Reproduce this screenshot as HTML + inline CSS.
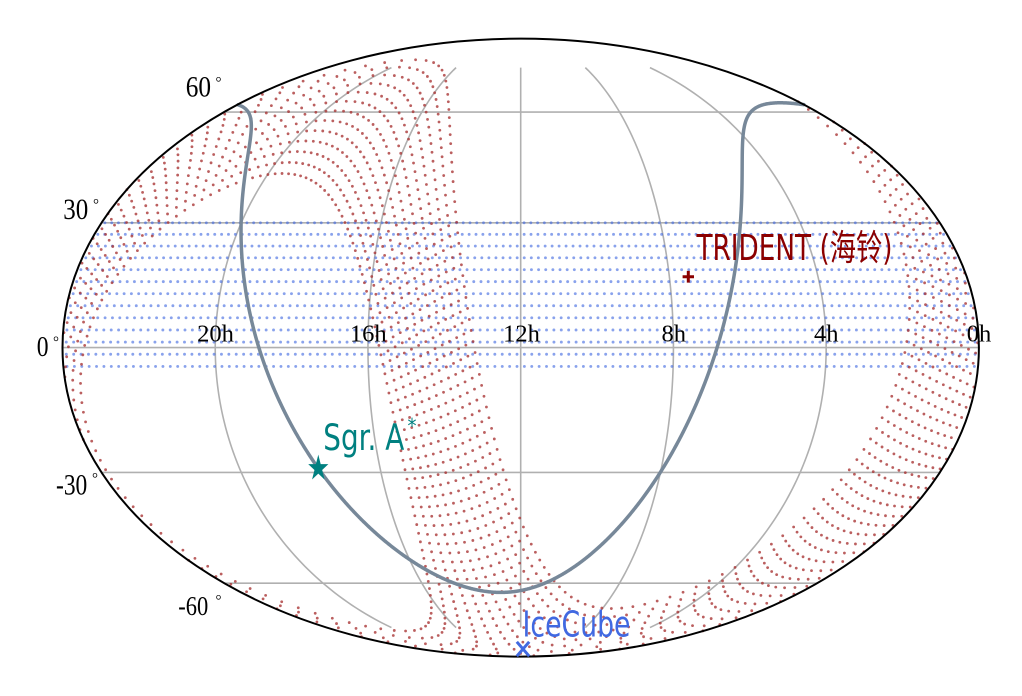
<!DOCTYPE html>
<html><head><meta charset="utf-8">
<style>
html,body{margin:0;padding:0;background:#fff;}
svg{display:block;}
</style></head>
<body>
<svg id="s" width="1022" height="696" viewBox="0 0 1022 696" xmlns="http://www.w3.org/2000/svg">
<rect x="0" y="0" width="1022" height="696" fill="#fff"/>
<g id="grid" fill="none" stroke="#b0b0b0" stroke-width="1.6"></g>
<g id="blue" fill="#4169e1" fill-opacity="0.62"></g>
<g id="red" fill="#a83232" fill-opacity="0.78"></g>
<path id="gal" fill="none" stroke="#778899" stroke-width="3.5" stroke-linejoin="round" stroke-linecap="round"/>
<ellipse cx="520.7" cy="347.6" rx="458.2" ry="309" fill="none" stroke="#000" stroke-width="2"/>

<!-- markers -->
<path d="M682.6 276.7 H694 M688.3 270.9 V282.6" stroke="#8b0000" stroke-width="3" fill="none"/>
<polygon id="star" fill="#008080"/>
<path d="M516.8 641.8 L529.2 656.2 M529.2 641.8 L516.8 656.2" stroke="#4169e1" stroke-width="3" fill="none"/>

<!-- latitude labels -->
<g font-family="'Liberation Serif', serif" fill="#000">
  <text transform="translate(185.7,96.7) scale(1,1.17)" font-size="25.3" textLength="25.3" lengthAdjust="spacingAndGlyphs">60</text>
  <text x="215.5" y="87" font-size="15">°</text>
  <text transform="translate(63.3,219) scale(1,1.17)" font-size="25.3" textLength="25" lengthAdjust="spacingAndGlyphs">30</text>
  <text x="93" y="209" font-size="15">°</text>
  <text transform="translate(36.7,356) scale(1,1.2)" font-size="24" textLength="11.8" lengthAdjust="spacingAndGlyphs">0</text>
  <text x="53" y="346.6" font-size="15">°</text>
  <text transform="translate(56,494.3) scale(1,1.17)" font-size="25.3" textLength="31.3" lengthAdjust="spacingAndGlyphs">-30</text>
  <text x="92" y="483.2" font-size="15">°</text>
  <text transform="translate(178.3,615) scale(1,1.1)" font-size="25.3" textLength="30" lengthAdjust="spacingAndGlyphs">-60</text>
  <text x="215.5" y="605" font-size="15">°</text>
</g>

<!-- RA labels -->
<g font-family="'Liberation Serif', serif" font-size="24.5" fill="#000" text-anchor="middle">
  <text x="215.5" y="341.3">20h</text>
  <text x="368.3" y="341.3">16h</text>
  <text x="521.5" y="341.3">12h</text>
  <text x="673.7" y="341.3">8h</text>
  <text x="826.3" y="341.3">4h</text>
  <text x="979" y="341.3">0h</text>
</g>

<!-- annotations -->
<text transform="translate(696.5,260) scale(1,1.4)" font-family="'DejaVu Sans','Noto Sans CJK SC',sans-serif" font-size="25.5" fill="#8b0000" textLength="196" lengthAdjust="spacingAndGlyphs">TRIDENT (海铃)</text>
<text transform="translate(323.3,450) scale(1,1.42)" font-family="'DejaVu Sans',sans-serif" font-size="26" fill="#008080" textLength="81" lengthAdjust="spacingAndGlyphs">Sgr. A</text>
<text transform="translate(407.5,433) scale(1,1.15)" font-family="'DejaVu Sans',sans-serif" font-size="18" fill="#008080">*</text>
<text transform="translate(522.5,636.7) scale(1,1.38)" font-family="'DejaVu Sans',sans-serif" font-size="26" fill="#4169e1" textLength="108" lengthAdjust="spacingAndGlyphs">IceCube</text>
</svg>
<script>
(function(){
var NS="http://www.w3.org/2000/svg";
var CX=520.7, CY=347.6, A=458.2, B=309, D=Math.PI/180;
function theta(dec){
  var phi=dec*D, k=Math.PI*Math.sin(phi);
  var lo=-Math.PI/2, hi=Math.PI/2;
  for(var i=0;i<60;i++){var m=(lo+hi)/2; if(2*m+Math.sin(2*m)<k) lo=m; else hi=m;}
  return (lo+hi)/2;
}
function proj(ra,dec){
  ra=((ra%360)+360)%360;
  var lam=180-ra;
  var t=theta(dec);
  return [CX+A*(lam/180)*Math.cos(t), CY-B*Math.sin(t)];
}
function add(parent,tag,attrs){
  var e=document.createElementNS(NS,tag);
  for(var k in attrs) e.setAttribute(k,attrs[k]);
  parent.appendChild(e); return e;
}
// grid
var grid=document.getElementById('grid');
[-60,-30,0,30,60].forEach(function(d){
  var t=theta(d), y=CY-B*Math.sin(t), h=A*Math.cos(t);
  add(grid,'line',{x1:(CX-h).toFixed(2),y1:y.toFixed(2),x2:(CX+h).toFixed(2),y2:y.toFixed(2)});
});
[-120,-60,0,60,120].forEach(function(l){
  var d='';
  for(var dec=-75;dec<=75.001;dec+=1){
    var t=theta(dec), x=CX+A*(l/180)*Math.cos(t), y=CY-B*Math.sin(t);
    d+=(d?'L':'M')+x.toFixed(2)+' '+y.toFixed(2);
  }
  add(grid,'path',{d:d});
});
// blue band
var blue=document.getElementById('blue');
for(var i=0;i<13;i++){
  var dec=30-i*2.87, n=124;
  for(var j=0;j<n;j++){
    var ra=(j+0.5)*360/n, p=proj(ra,dec);
    add(blue,'circle',{cx:p[0].toFixed(2),cy:p[1].toFixed(2),r:1.45});
  }
}
// red annulus (zenith band around TRIDENT)
var red=document.getElementById('red');
var ra0=113.5*D, de0=16.85*D;
var P=[Math.cos(de0)*Math.cos(ra0),Math.cos(de0)*Math.sin(ra0),Math.sin(de0)];
var E1=[-Math.sin(de0)*Math.cos(ra0),-Math.sin(de0)*Math.sin(ra0),Math.cos(de0)];
var E2=[-Math.sin(ra0),Math.cos(ra0),0];
var NR=13, z1=85, z2=120.5, NA=132;
for(var r=0;r<NR;r++){
  var z=(z1+(z2-z1)*r/(NR-1))*D;
  for(var ai=0;ai<NA;ai++){
    var ar=ai*360/NA*D, v=[0,0,0];
    for(var k=0;k<3;k++) v[k]=Math.cos(z)*P[k]+Math.sin(z)*(Math.cos(ar)*E1[k]+Math.sin(ar)*E2[k]);
    var dc=Math.asin(Math.max(-1,Math.min(1,v[2])))/D;
    var rr=Math.atan2(v[1],v[0])/D; if(rr<0) rr+=360;
    var q=proj(rr,dc);
    add(red,'circle',{cx:q[0].toFixed(2),cy:q[1].toFixed(2),r:1.4});
  }
}
// galactic plane
var ag=192.85948*D, dg=27.12825*D, ln=122.93192;
var pts=[];
for(var l=0;l<360;l+=0.25){
  var x=(ln-l)*D;
  var decg=Math.asin(Math.cos(dg)*Math.cos(x))/D;
  var rag=(ag+Math.atan2(Math.sin(x),-Math.sin(dg)*Math.cos(x)))/D;
  rag=((rag%360)+360)%360;
  pts.push([rag,decg]);
}
pts.sort(function(a,b){return a[0]-b[0];});
var gd='';
pts.forEach(function(pt){var q=proj(pt[0],pt[1]); gd+=(gd?'L':'M')+q[0].toFixed(2)+' '+q[1].toFixed(2);});
document.getElementById('gal').setAttribute('d',gd);
// star marker
var sx=318.3, sy=468.4, R=10.6, ri=R*0.382, ky=1.3, s='';
for(var m=0;m<10;m++){
  var ang=(-90+m*36)*D, rad=(m%2===0)?R:ri;
  s+=(sx+rad*Math.cos(ang)).toFixed(2)+','+(sy+rad*Math.sin(ang)*ky).toFixed(2)+' ';
}
document.getElementById('star').setAttribute('points',s);
})();
</script>
</body></html>
